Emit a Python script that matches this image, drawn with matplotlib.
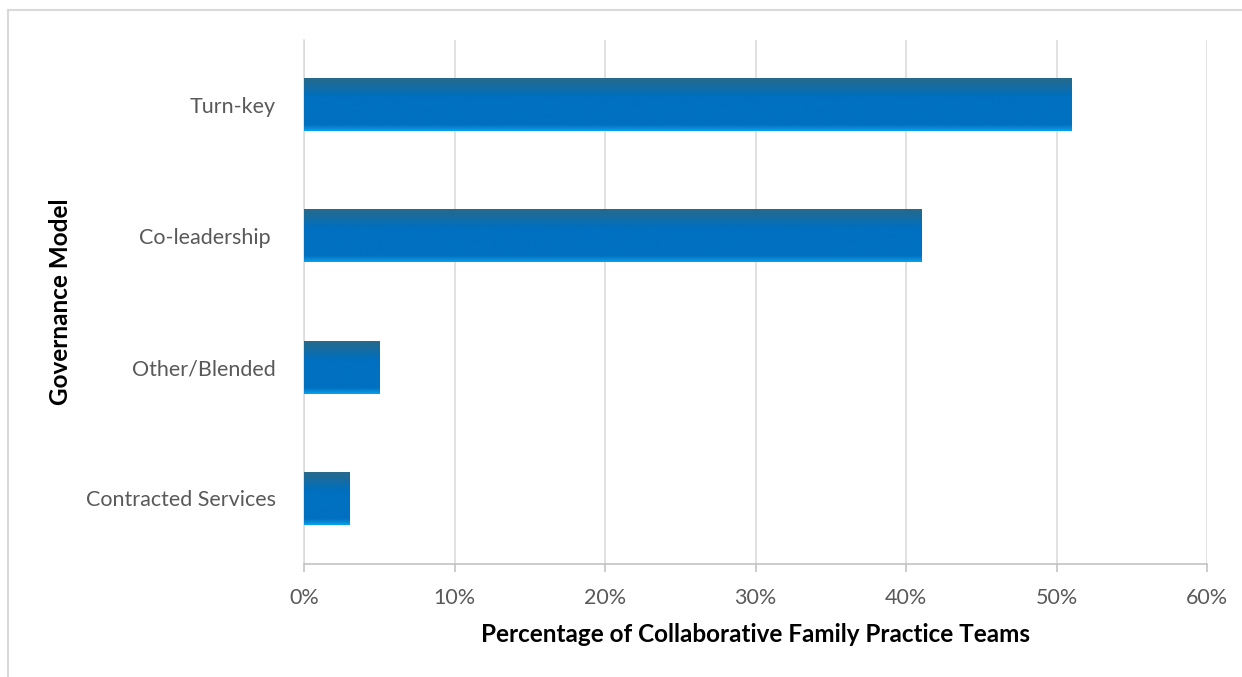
import numpy as np
import matplotlib
matplotlib.use("Agg")
import matplotlib.pyplot as plt
from matplotlib.colors import LinearSegmentedColormap
from matplotlib.patches import Rectangle
from matplotlib.ticker import FuncFormatter

# Governance models, listed bottom to top
categories = ["Contracted Services", "Other/Blended", "Co-leadership ", "Turn-key"]
percentages = [3, 5, 41, 51]
x_ticks = [0, 10, 20, 30, 40, 50, 60]

plt.rcParams["font.family"] = ["Lato", "DejaVu Sans"]

fig = plt.figure(figsize=(12.42, 6.77), dpi=100)
fig.patch.set_facecolor("white")

# light frame around the chart area
fig.patches.append(Rectangle((8 / 1242, -0.05), 1.2, 1 - 10 / 677 + 0.05,
                             transform=fig.transFigure, fill=False,
                             edgecolor="#d9d9d9", linewidth=1.5, zorder=0))

ax = fig.add_axes([304 / 1242, 1 - 564 / 677, (1207 - 304) / 1242, (564 - 39.5) / 677])

y = np.arange(len(categories))
bars = ax.barh(y, percentages, height=0.4, color="none", zorder=3)

# vertical gradient fill for each bar
grad = LinearSegmentedColormap.from_list(
    "bar_grad",
    [(0.0, "#27698a"), (0.35, "#0070c0"), (0.88, "#0070c0"),
     (0.95, "#0a8ad6"), (1.0, "#00a6ea")])
col = np.linspace(0, 1, 256).reshape(-1, 1)
for b in bars:
    x0, y0, w, h = b.get_x(), b.get_y(), b.get_width(), b.get_height()
    ax.imshow(col, cmap=grad, aspect="auto", origin="upper",
              extent=(x0, x0 + w, y0, y0 + h), zorder=3, interpolation="bilinear")

ax.set_xlim(0, 60)
ax.set_ylim(-0.5, len(categories) - 0.5)
ax.set_xticks(x_ticks)
ax.xaxis.set_major_formatter(FuncFormatter(lambda v, p: f"{v:.0f}%"))
ax.set_yticks(y)
ax.set_yticklabels(categories)

ax.grid(axis="x", color="#d9d9d9", linewidth=1.1, zorder=0)
ax.set_axisbelow(True)

for s in ["top", "right"]:
    ax.spines[s].set_visible(False)
ax.spines["left"].set_color("#d9d9d9")
ax.spines["left"].set_linewidth(1.1)
ax.spines["bottom"].set_color("#bfbfbf")
ax.spines["bottom"].set_linewidth(1.1)

ax.tick_params(axis="x", direction="out", length=6, width=1.1, color="#bfbfbf",
               labelsize=15.5, labelcolor="#595959", pad=11)
ax.tick_params(axis="y", length=0, labelsize=15.5, labelcolor="#595959", pad=20)

ax.set_xlabel("Percentage of Collaborative Family Practice Teams",
              fontsize=17.5, fontweight="bold", color="black")
ax.set_ylabel("Governance Model", fontsize=17.5, fontweight="bold", color="black")
ax.xaxis.label.set_va("center")
ax.yaxis.label.set_va("center")
ax.xaxis.set_label_coords(0.5, -0.1335)
ax.yaxis.set_label_coords(-0.270, 0.5)

fig.savefig("out.png", dpi=100, facecolor="white")
